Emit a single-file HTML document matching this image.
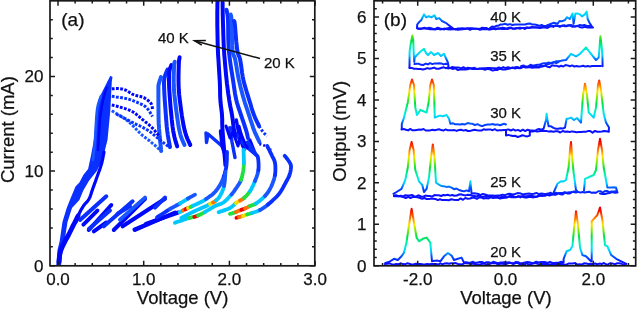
<!DOCTYPE html>
<html><head><meta charset="utf-8"><style>
html,body{margin:0;padding:0;background:#fff;}
svg{display:block;filter:blur(0.3px);}
text{font-family:"Liberation Sans", sans-serif;fill:#111;stroke:#111;stroke-width:0.25px;}
</style></head><body>
<svg width="639" height="309" viewBox="0 0 639 309">
<polygon points="56.2,266.0 57.5,250.0 59.7,241.0 62.5,221.8 66.7,207.9 70.7,198.0 75.5,186.5 79.4,182.6 83.3,174.9 88.1,169.0 91.0,155.5 93.9,140.0 95.5,120.0 98.7,99.0 103.0,90.3 110.3,75.8 112.5,77.0 111.8,81.6 110.3,110.7 107.5,140.0 102.6,159.4 96.8,171.0 89.0,180.7 83.3,190.4 79.4,200.0 72.0,208.0 67.5,222.0 64.5,241.0 62.0,255.0 61.0,266.0" fill="#0a30ff"/>
<polyline points="80.0,220.0 106.3,196.3" fill="none" stroke="#0a30ff" stroke-width="4.0" stroke-linejoin="round" stroke-linecap="round"/>
<polyline points="88.8,230.0 111.3,205.0" fill="none" stroke="#0008fa" stroke-width="4.0" stroke-linejoin="round" stroke-linecap="round"/>
<polyline points="93.8,231.3 106.3,222.5" fill="none" stroke="#0008fa" stroke-width="4.0" stroke-linejoin="round" stroke-linecap="round"/>
<polyline points="103.8,226.3 132.6,201.3" fill="none" stroke="#0a30ff" stroke-width="4.0" stroke-linejoin="round" stroke-linecap="round"/>
<polyline points="113.8,230.0 145.0,198.8" fill="none" stroke="#0008fa" stroke-width="4.0" stroke-linejoin="round" stroke-linecap="round"/>
<polyline points="117.6,213.8 130.0,206.3" fill="none" stroke="#0a30ff" stroke-width="4.0" stroke-linejoin="round" stroke-linecap="round"/>
<polyline points="122.6,226.3 165.0,198.8" fill="none" stroke="#0008fa" stroke-width="4.0" stroke-linejoin="round" stroke-linecap="round"/>
<polyline points="135.0,230.0 175.0,212.5" fill="none" stroke="#0008fa" stroke-width="4.0" stroke-linejoin="round" stroke-linecap="round"/>
<polyline points="119.9,219.8 145.0,197.6" fill="none" stroke="#1a56ff" stroke-width="3.9" stroke-linejoin="round" stroke-linecap="round"/>
<polyline points="134.4,229.5 163.6,217.4" fill="none" stroke="#0008fa" stroke-width="4.0" stroke-linejoin="round" stroke-linecap="round"/>
<polyline points="145.8,223.9 178.2,212.5" fill="none" stroke="#0008fa" stroke-width="4.0" stroke-linejoin="round" stroke-linecap="round"/>
<polyline points="155.0,207.6 165.0,197.6" fill="none" stroke="#0a30ff" stroke-width="3.9" stroke-linejoin="round" stroke-linecap="round"/>
<polyline points="83.4,224.6 97.4,210.6" fill="none" stroke="#0008fa" stroke-width="3.9" stroke-linejoin="round" stroke-linecap="round"/>
<polyline points="89.0,228.7 110.0,210.6" fill="none" stroke="#0a30ff" stroke-width="3.9" stroke-linejoin="round" stroke-linecap="round"/>
<polyline points="206.0,133.0 206.5,142.5 208.0,134.0 222.0,146.0" fill="none" stroke="#0a30ff" stroke-width="3.4" stroke-linejoin="round" stroke-linecap="round"/>
<polyline points="220.5,131.0 222.0,146.0 224.0,152.0" fill="none" stroke="#0008fa" stroke-width="3.4" stroke-linejoin="round" stroke-linecap="round"/>
<polyline points="229.8,127.8 232.0,142.0 235.0,157.6" fill="none" stroke="#0a30ff" stroke-width="3.4" stroke-linejoin="round" stroke-linecap="round"/>
<polyline points="236.3,120.0 239.0,135.0 242.7,146.0" fill="none" stroke="#0008fa" stroke-width="3.4" stroke-linejoin="round" stroke-linecap="round"/>
<polyline points="238.9,126.5 242.0,138.0 244.0,150.0" fill="none" stroke="#0008fa" stroke-width="3.4" stroke-linejoin="round" stroke-linecap="round"/>
<polyline points="232.0,128.0 240.0,140.0 250.0,150.0 256.0,155.0" fill="none" stroke="#0a30ff" stroke-width="3.2" stroke-linejoin="round" stroke-linecap="round"/>
<polyline points="226.0,126.0 230.0,138.0 233.0,132.0 238.0,146.0 241.0,134.0 247.0,148.0 250.0,140.0 254.0,150.0" fill="none" stroke="#0008fa" stroke-width="3.0" stroke-linejoin="round" stroke-linecap="round"/>
<polyline points="59.0,262.0 59.1,260.8 59.3,259.1 59.4,257.1 59.7,254.9 60.2,252.5 61.0,250.0 62.1,247.3 63.5,244.4 65.1,241.2 66.8,238.1 68.5,235.0 70.0,232.0 71.5,229.0 73.0,225.9 74.6,222.9 76.0,220.1 77.1,217.7 78.0,216.0" fill="none" stroke="#0008fa" stroke-width="4.8" stroke-linejoin="round" stroke-linecap="round"/>
<polyline points="76.0,222.0 76.3,221.1 76.7,219.9 77.2,218.5 77.8,217.0 78.4,215.4 79.0,214.0 79.6,212.7 80.3,211.3 81.0,209.9 81.8,208.6 82.6,207.3 83.4,206.0 84.3,204.8 85.2,203.7 86.2,202.7 87.2,201.6 88.1,200.4 89.0,199.0 89.8,197.4 90.5,195.6 91.1,193.8 91.7,191.8 92.4,189.9 93.0,188.0 93.7,186.2 94.3,184.4 95.0,182.7 95.6,180.9 96.3,179.0 97.0,177.0 97.8,174.8 98.6,172.5 99.5,170.2 100.3,167.8 101.0,165.5 101.7,163.3 102.2,161.1 102.7,158.9 103.1,156.8 103.5,154.8 103.8,153.2 104.0,152.0" fill="none" stroke="#0008fa" stroke-width="3.2" stroke-linejoin="round" stroke-linecap="round"/>
<polyline points="93.0,160.0 93.2,157.9 93.5,155.2 93.9,151.9 94.3,148.1 94.6,144.1 95.0,140.0 95.3,135.4 95.6,130.1 95.9,124.6 96.2,119.2 96.6,114.2 97.0,110.0 97.6,106.6 98.3,103.6 99.1,101.1 99.9,99.0 100.5,97.3 101.0,96.0" fill="none" stroke="#1a56ff" stroke-width="2.6" stroke-linejoin="round" stroke-linecap="round"/>
<polyline points="98.0,150.0 98.2,146.6 98.5,141.9 98.8,136.2 99.2,130.4 99.6,124.8 100.0,120.0 100.4,116.0 100.9,112.3 101.4,108.9 101.9,105.7 102.4,102.8 103.0,100.0 103.7,97.4 104.4,95.0 105.2,92.8 105.9,90.8 106.6,89.2 107.0,88.0" fill="none" stroke="#0008fa" stroke-width="2.6" stroke-linejoin="round" stroke-linecap="round"/>
<polyline points="101.0,150.0 101.3,146.6 101.8,141.9 102.4,136.2 103.0,130.4 103.5,124.8 104.0,120.0 104.4,116.0 104.7,112.4 104.9,109.1 105.2,106.0 105.6,103.0 106.0,100.0 106.6,96.9 107.3,93.8 108.1,90.8 108.9,88.0 109.5,85.7 110.0,84.0" fill="none" stroke="#0a30ff" stroke-width="2.4" stroke-linejoin="round" stroke-linecap="round"/>
<polyline points="161.0,77.0 160.7,77.8 160.4,78.9 159.9,80.1 159.5,81.5 159.1,82.8 158.8,84.0 158.6,84.8 158.5,85.2 158.5,85.6 158.4,86.3 158.4,87.6 158.4,90.0 158.4,93.8 158.4,98.8 158.4,104.4 158.5,110.2 158.5,115.6 158.6,120.0 158.7,123.4 158.9,126.1 159.0,128.4 159.2,130.5 159.4,132.6 159.6,135.0 159.9,137.8 160.1,140.9 160.5,143.9 160.8,146.8 161.0,149.2 161.2,151.0" fill="none" stroke="#1a56ff" stroke-width="4.0" stroke-linejoin="round" stroke-linecap="round"/>
<polyline points="167.5,69.6 167.1,70.5 166.6,71.6 166.0,73.0 165.4,74.6 164.9,76.3 164.5,78.0 164.3,79.6 164.1,81.1 164.0,82.7 164.0,84.5 164.1,86.9 164.2,90.0 164.4,94.1 164.7,99.2 165.1,104.8 165.5,110.4 165.9,115.7 166.2,120.0 166.5,123.4 166.7,126.2 167.0,128.6 167.2,130.8 167.5,132.8 167.8,135.0 168.2,137.3 168.6,139.7 169.0,141.9 169.4,144.0 169.8,145.7 170.0,147.0" fill="none" stroke="#0a30ff" stroke-width="4.0" stroke-linejoin="round" stroke-linecap="round"/>
<polyline points="171.4,65.0 171.1,65.6 170.8,66.4 170.4,67.4 169.9,68.6 169.6,70.1 169.3,72.0 169.1,74.2 169.1,76.7 169.0,79.6 169.0,82.7 169.1,86.2 169.3,90.0 169.6,94.5 170.0,99.7 170.4,105.2 170.9,110.7 171.4,115.7 171.8,120.0 172.2,123.4 172.5,126.2 172.9,128.7 173.2,130.8 173.6,132.9 174.0,135.0 174.5,137.2 175.1,139.5 175.7,141.6 176.3,143.6 176.8,145.2 177.2,146.4" fill="none" stroke="#0008fa" stroke-width="4.0" stroke-linejoin="round" stroke-linecap="round"/>
<polyline points="174.7,61.8 174.6,62.3 174.5,62.8 174.3,63.5 174.2,64.5 174.1,66.0 174.0,68.0 173.9,70.7 173.8,73.9 173.7,77.5 173.7,81.5 173.8,85.7 174.0,90.0 174.4,94.7 175.0,100.0 175.6,105.4 176.3,110.8 177.0,115.8 177.6,120.0 178.1,123.4 178.6,126.3 179.0,128.8 179.5,130.9 180.0,133.0 180.5,135.0 181.1,137.1 181.9,139.1 182.7,140.9 183.4,142.6 184.1,144.0 184.5,145.0" fill="none" stroke="#1a56ff" stroke-width="4.0" stroke-linejoin="round" stroke-linecap="round"/>
<polyline points="179.6,57.3 179.5,57.9 179.4,58.7 179.2,59.6 179.0,60.9 178.9,62.6 178.8,65.0 178.7,68.1 178.6,71.9 178.5,76.1 178.5,80.7 178.6,85.3 178.8,90.0 179.2,94.9 179.8,100.2 180.5,105.6 181.2,110.9 181.9,115.8 182.6,120.0 183.2,123.4 183.7,126.3 184.3,128.8 184.8,130.9 185.4,133.0 186.0,135.0 186.7,137.1 187.5,139.1 188.4,140.9 189.2,142.6 189.8,144.0 190.3,145.0" fill="none" stroke="#0008fa" stroke-width="4.0" stroke-linejoin="round" stroke-linecap="round"/>
<polyline points="217.5,0.0 217.5,2.1 217.4,4.8 217.4,8.1 217.3,11.9 217.3,15.9 217.3,20.0 217.3,24.4 217.4,29.3 217.5,34.4 217.6,39.6 217.7,44.9 217.9,50.0 218.1,55.1 218.5,60.4 218.8,65.6 219.1,70.7 219.4,75.6 219.7,80.0 219.9,84.0 220.0,87.6 220.1,90.9 220.1,94.1 220.2,97.1 220.4,100.0 220.6,102.8 220.9,105.4 221.2,107.8 221.5,110.2 221.8,112.6 222.0,115.0 222.1,117.3 222.2,119.3 222.2,121.2 222.2,123.5 222.3,126.3 222.5,130.0 222.9,135.1 223.4,141.5 224.0,148.4 224.6,155.2 225.1,161.0 225.4,165.0" fill="none" stroke="#0008fa" stroke-width="4.0" stroke-linejoin="round" stroke-linecap="round"/>
<polyline points="222.6,2.6 222.6,4.3 222.6,6.6 222.7,9.4 222.7,12.6 222.8,16.2 222.9,20.0 223.0,24.3 223.2,29.1 223.3,34.2 223.5,39.5 223.7,44.9 224.0,50.0 224.3,55.1 224.8,60.4 225.2,65.6 225.7,70.7 226.1,75.6 226.6,80.0 227.0,84.0 227.5,87.6 227.9,90.9 228.3,94.1 228.8,97.1 229.2,100.0 229.7,102.8 230.1,105.4 230.6,107.8 231.1,110.2 231.6,112.6 232.0,115.0 232.4,117.6 232.8,120.3 233.1,123.1 233.4,125.7 233.7,128.0 234.0,130.0 234.2,131.6 234.4,132.9 234.6,133.9 234.8,134.8 234.9,135.5 235.0,136.0" fill="none" stroke="#0008fa" stroke-width="4.0" stroke-linejoin="round" stroke-linecap="round"/>
<polyline points="226.5,9.7 226.7,10.6 226.9,11.6 227.2,13.0 227.5,14.7 227.8,17.0 228.0,20.0 228.1,23.9 228.2,28.5 228.2,33.8 228.3,39.3 228.5,44.8 228.8,50.0 229.3,55.1 230.0,60.4 230.7,65.6 231.5,70.7 232.3,75.6 233.0,80.0 233.6,84.0 234.1,87.6 234.6,90.9 235.1,94.1 235.7,97.1 236.3,100.0 237.0,102.8 237.8,105.4 238.5,107.8 239.4,110.2 240.2,112.6 241.0,115.0 241.9,117.6 242.8,120.3 243.7,122.9 244.5,125.5 245.3,127.9 246.0,130.0 246.5,131.8 247.0,133.5 247.3,134.9 247.6,136.2 247.8,137.2 248.0,138.0" fill="none" stroke="#0a30ff" stroke-width="4.0" stroke-linejoin="round" stroke-linecap="round"/>
<polyline points="230.7,14.6 230.8,14.9 230.9,15.1 231.0,15.4 231.2,16.2 231.3,17.6 231.5,20.0 231.6,23.8 231.8,28.9 231.9,34.7 232.1,40.6 232.3,45.9 232.6,50.0 232.9,52.7 233.3,54.4 233.8,55.6 234.3,56.7 234.8,58.0 235.3,60.0 235.8,62.8 236.4,65.9 236.9,69.4 237.5,73.0 238.2,76.6 238.9,80.0 239.7,83.4 240.5,86.9 241.4,90.3 242.3,93.7 243.2,97.0 244.1,100.0 244.9,102.8 245.8,105.4 246.6,107.8 247.4,110.2 248.2,112.6 249.0,115.0 249.8,117.5 250.6,120.1 251.5,122.7 252.3,125.2 253.1,127.7 254.0,130.0 254.9,132.3 256.0,134.7 257.0,136.9 258.0,139.0 258.8,140.7 259.4,142.0" fill="none" stroke="#1a56ff" stroke-width="4.0" stroke-linejoin="round" stroke-linecap="round"/>
<polyline points="234.0,21.0 234.1,21.2 234.2,21.3 234.3,21.4 234.5,22.0 234.7,23.1 234.9,25.0 235.2,28.1 235.5,32.3 235.9,37.1 236.3,42.0 236.8,46.5 237.2,50.0 237.7,52.4 238.1,54.1 238.6,55.3 239.2,56.5 239.7,57.9 240.2,60.0 240.7,62.8 241.2,65.9 241.6,69.4 242.1,73.0 242.7,76.6 243.4,80.0 244.2,83.4 245.2,86.9 246.2,90.3 247.2,93.7 248.3,97.0 249.2,100.0 250.1,102.8 250.9,105.5 251.6,108.1 252.4,110.5 253.2,112.8 254.0,115.0 254.9,117.2 255.8,119.4 256.8,121.4 257.7,123.3 258.5,124.8 259.0,126.0" fill="none" stroke="#0a30ff" stroke-width="4.0" stroke-linejoin="round" stroke-linecap="round"/>
<polyline points="111.8,88.9 112.5,88.8 113.4,88.8 114.5,88.7 115.7,88.6 116.9,88.6 118.0,88.6 119.1,88.7 120.2,88.8 121.3,88.9 122.4,89.1 123.6,89.4 124.9,89.8 126.2,90.4 127.6,91.2 129.0,92.1 130.5,93.1 132.0,94.0 133.6,94.7 135.2,95.3 137.0,95.7 138.8,96.1 140.6,96.5 142.3,97.0 143.8,97.6 145.2,98.4 146.6,99.3 147.9,100.3 149.1,101.4 150.2,102.4 151.0,103.4 151.6,104.4 152.0,105.5 152.2,106.7 152.3,107.7 152.4,108.6 152.5,109.2" fill="none" stroke="#0008fa" stroke-width="3.0" stroke-dasharray="2.8 1.4" stroke-linejoin="round"/>
<polyline points="111.8,96.2 113.6,96.5 116.1,96.9 119.1,97.3 122.2,97.8 125.2,98.4 127.8,99.0 130.0,99.6 132.2,100.3 134.1,101.1 136.0,101.9 137.8,102.6 139.4,103.4 140.9,104.1 142.2,104.7 143.4,105.3 144.5,106.0 145.6,106.8 146.7,107.8 147.8,109.1 149.0,110.7 150.1,112.4 151.1,114.1 151.9,115.5 152.5,116.5" fill="none" stroke="#0a30ff" stroke-width="3.0" stroke-dasharray="2.8 1.4" stroke-linejoin="round"/>
<polyline points="111.8,104.9 113.9,105.5 117.0,106.3 120.5,107.3 124.2,108.3 127.8,109.5 130.7,110.7 133.1,112.0 135.2,113.4 137.0,114.9 138.8,116.4 140.5,117.9 142.3,119.4 144.1,120.8 145.9,122.3 147.7,123.7 149.4,125.2 151.0,126.6 152.5,128.1 154.0,129.7 155.4,131.4 156.8,133.0 158.0,134.6 159.0,135.9 159.8,136.9" fill="none" stroke="#0008fa" stroke-width="3.0" stroke-dasharray="2.8 1.4" stroke-linejoin="round"/>
<polyline points="111.8,110.7 113.6,111.8 116.0,113.3 119.0,115.0 122.1,117.0 125.1,119.0 127.8,121.0 130.2,123.1 132.6,125.4 134.9,127.8 137.2,130.2 139.3,132.4 141.3,134.3 143.1,135.9 144.8,137.2 146.3,138.4 147.8,139.5 149.4,140.7 151.0,142.0 152.8,143.6 154.9,145.3 156.9,147.1 158.8,148.8 160.4,150.3 161.6,151.3" fill="none" stroke="#1a56ff" stroke-width="3.0" stroke-dasharray="2.8 1.4" stroke-linejoin="round"/>
<polyline points="116.2,114.0 118.1,115.0 120.8,116.4 124.0,118.0 127.4,119.8 130.7,121.5 133.6,123.0 136.2,124.3 138.6,125.4 141.0,126.5 143.3,127.7 145.6,128.9 147.8,130.2 150.0,131.7 152.1,133.3 154.1,135.0 156.1,136.8 158.1,138.4 160.0,140.0 162.0,141.5 164.0,143.1 166.0,144.6 167.8,146.0 169.4,147.2 170.5,148.0" fill="none" stroke="#0a30ff" stroke-width="3.0" stroke-dasharray="2.8 1.4" stroke-linejoin="round"/>
<polyline points="259.0,126.0 259.4,126.7 260.0,127.6 260.7,128.8 261.5,129.9 262.3,131.0 263.0,132.0 263.7,132.8 264.5,133.6 265.4,134.4 266.1,135.0 266.7,135.6 267.2,136.0" fill="none" stroke="#0a30ff" stroke-width="3.0" stroke-dasharray="2.5 1.8" stroke-linejoin="round"/>
<polyline points="259.4,144.0 260.0,144.2 260.9,144.4 261.9,144.8 263.1,145.1 264.2,145.5 265.2,146.0 266.2,146.6 267.3,147.3 268.5,148.1 269.5,148.9 270.4,149.5 271.0,150.0" fill="none" stroke="#0008fa" stroke-width="2.6" stroke-dasharray="2 2" stroke-linejoin="round"/>
<polyline points="236.4,217.8 236.7,217.7 237.2,217.5 237.7,217.4 238.3,217.2 239.0,217.0" fill="none" stroke="#f00000" stroke-width="3.8" stroke-linejoin="round" stroke-linecap="round"/>
<polyline points="239.0,217.0 239.7,216.8 240.5,216.6 241.3,216.4 242.2,216.2 243.0,216.0" fill="none" stroke="#ff7000" stroke-width="3.8" stroke-linejoin="round" stroke-linecap="round"/>
<polyline points="243.0,216.0 243.8,215.7 244.6,215.4 245.3,215.1 246.1,214.8 247.0,214.5" fill="none" stroke="#f0e000" stroke-width="3.8" stroke-linejoin="round" stroke-linecap="round"/>
<polyline points="247.0,214.5 247.9,214.2 248.8,214.0 249.7,213.7 250.8,213.4 252.0,213.0" fill="none" stroke="#20e040" stroke-width="3.8" stroke-linejoin="round" stroke-linecap="round"/>
<polyline points="252.0,213.0 253.4,212.5 255.0,212.0 256.7,211.5 258.4,210.8 260.0,210.0" fill="none" stroke="#00c8ff" stroke-width="3.8" stroke-linejoin="round" stroke-linecap="round"/>
<polyline points="260.0,210.0 261.6,209.1 263.1,208.2 264.6,207.2 266.2,206.0 268.0,204.5" fill="none" stroke="#1a56ff" stroke-width="3.8" stroke-linejoin="round" stroke-linecap="round"/>
<polyline points="268.0,204.5 270.1,202.7 272.4,200.7 274.7,198.5 277.0,196.3 279.0,194.0 280.7,191.6 282.3,189.1 283.6,186.5 284.9,184.1 286.0,182.0 287.0,180.3 287.7,178.9 288.4,177.7 289.0,176.4 289.5,175.0 290.0,173.3 290.5,171.4 290.8,169.5 291.0,167.6 291.0,166.0 290.7,164.6 290.1,163.3 289.4,162.1 288.7,161.0 288.0,160.0 287.3,159.0 286.5,158.0 285.8,157.1 285.2,156.3 284.7,155.8" fill="none" stroke="#0a30ff" stroke-width="3.8" stroke-linejoin="round" stroke-linecap="round"/>
<polyline points="230.0,213.9 230.8,213.6 232.0,213.3 233.4,212.9 234.7,212.4 236.0,212.0" fill="none" stroke="#20e040" stroke-width="3.8" stroke-linejoin="round" stroke-linecap="round"/>
<polyline points="236.0,212.0 237.1,211.6 238.2,211.1 239.3,210.6 240.4,210.2 241.3,209.8" fill="none" stroke="#ff7000" stroke-width="3.8" stroke-linejoin="round" stroke-linecap="round"/>
<polyline points="241.3,209.8 242.1,209.5 242.8,209.3 243.5,209.1 244.2,208.8 245.0,208.5" fill="none" stroke="#f00000" stroke-width="3.8" stroke-linejoin="round" stroke-linecap="round"/>
<polyline points="245.0,208.5 245.9,208.1 246.9,207.6 247.9,207.1 248.9,206.5 250.0,206.0" fill="none" stroke="#ff7000" stroke-width="3.8" stroke-linejoin="round" stroke-linecap="round"/>
<polyline points="250.0,206.0 251.1,205.6 252.2,205.2 253.3,204.9 254.6,204.3 256.0,203.5" fill="none" stroke="#20e040" stroke-width="3.8" stroke-linejoin="round" stroke-linecap="round"/>
<polyline points="256.0,203.5 257.7,202.3 259.5,200.9 261.5,199.3 263.3,197.7 265.0,196.0" fill="none" stroke="#00c8ff" stroke-width="3.8" stroke-linejoin="round" stroke-linecap="round"/>
<polyline points="265.0,196.0 266.4,194.3 267.7,192.7 268.9,190.9 270.0,189.0 271.0,187.0 272.0,184.8 272.9,182.4 273.8,179.9 274.5,177.4 275.0,175.0" fill="none" stroke="#1a56ff" stroke-width="3.8" stroke-linejoin="round" stroke-linecap="round"/>
<polyline points="275.0,175.0 275.3,172.5 275.4,170.0 275.4,167.5 275.3,165.1 275.0,163.0 274.6,161.3 274.1,159.9 273.5,158.6 272.8,157.3 272.0,155.8 271.1,153.8 270.0,151.6 268.9,149.3 267.9,147.4 267.2,146.0" fill="none" stroke="#0a30ff" stroke-width="3.8" stroke-linejoin="round" stroke-linecap="round"/>
<polyline points="218.6,212.2 220.2,211.6 222.6,210.9 225.3,209.9 227.9,209.0 230.0,208.0 231.6,207.0 232.9,205.9 234.0,204.9 235.0,203.9 236.0,203.0" fill="none" stroke="#00c8ff" stroke-width="3.8" stroke-linejoin="round" stroke-linecap="round"/>
<polyline points="236.0,203.0 236.9,202.3 237.7,201.8 238.5,201.4 239.2,201.0 240.0,200.5" fill="none" stroke="#f0e000" stroke-width="3.8" stroke-linejoin="round" stroke-linecap="round"/>
<polyline points="240.0,200.5 240.8,200.1 241.5,199.7 242.3,199.3 243.1,198.8 244.0,198.0" fill="none" stroke="#ff7000" stroke-width="3.8" stroke-linejoin="round" stroke-linecap="round"/>
<polyline points="244.0,198.0 245.1,197.0 246.3,195.8 247.6,194.4 248.8,192.8 250.0,191.2" fill="none" stroke="#20e040" stroke-width="3.8" stroke-linejoin="round" stroke-linecap="round"/>
<polyline points="250.0,191.2 251.1,189.4 252.1,187.4 253.2,185.3 254.1,183.1 255.0,181.0" fill="none" stroke="#00c8ff" stroke-width="3.8" stroke-linejoin="round" stroke-linecap="round"/>
<polyline points="255.0,181.0 255.8,178.9 256.7,176.7 257.4,174.5 258.0,172.3 258.4,170.0" fill="none" stroke="#1a56ff" stroke-width="3.8" stroke-linejoin="round" stroke-linecap="round"/>
<polyline points="258.4,170.0 258.6,167.5 258.6,164.9 258.5,162.3 258.3,159.9 258.0,158.0 257.7,156.8 257.4,156.1 257.0,155.6 256.4,155.0 255.5,153.8 254.2,151.8 252.4,149.1 250.6,146.4 248.9,143.9 247.8,142.2" fill="none" stroke="#0a30ff" stroke-width="3.8" stroke-linejoin="round" stroke-linecap="round"/>
<polyline points="174.9,222.8 176.0,222.4 177.6,221.8 179.5,221.2 181.4,220.6 183.0,220.0 184.4,219.5 185.8,219.1 187.0,218.6 188.2,218.2 189.4,217.9" fill="none" stroke="#00c8ff" stroke-width="3.8" stroke-linejoin="round" stroke-linecap="round"/>
<polyline points="189.4,217.9 190.5,217.6 191.5,217.4 192.5,217.2 193.4,217.0 194.3,216.8" fill="none" stroke="#20e040" stroke-width="3.8" stroke-linejoin="round" stroke-linecap="round"/>
<polyline points="194.3,216.8 195.1,216.6 195.7,216.4 196.3,216.2 197.1,215.9 198.0,215.5" fill="none" stroke="#f00000" stroke-width="3.8" stroke-linejoin="round" stroke-linecap="round"/>
<polyline points="198.0,215.5 199.1,215.0 200.4,214.4 201.8,213.7 203.4,212.9 205.0,212.0" fill="none" stroke="#20e040" stroke-width="3.8" stroke-linejoin="round" stroke-linecap="round"/>
<polyline points="205.0,212.0 206.8,210.9 208.9,209.7 211.0,208.3 213.1,207.1 215.0,206.0 216.8,205.2 218.5,204.6 220.1,204.1 221.8,203.5 223.4,202.5 225.1,201.2 226.8,199.6 228.5,197.8 230.1,196.0 231.5,194.4" fill="none" stroke="#00c8ff" stroke-width="3.8" stroke-linejoin="round" stroke-linecap="round"/>
<polyline points="231.5,194.4 232.8,192.9 234.0,191.4 235.0,189.9 236.0,188.4 237.0,187.0 237.9,185.6 238.8,184.2 239.6,182.9 240.4,181.5 241.0,180.0" fill="none" stroke="#1a56ff" stroke-width="3.8" stroke-linejoin="round" stroke-linecap="round"/>
<polyline points="241.0,180.0 241.5,178.5 242.0,176.9 242.4,175.3 242.7,173.7 243.0,172.0 243.3,170.3 243.5,168.7 243.7,166.9 243.8,165.1 243.9,163.0" fill="none" stroke="#20e040" stroke-width="3.8" stroke-linejoin="round" stroke-linecap="round"/>
<polyline points="243.9,163.0 243.9,160.4 243.8,157.5 243.7,154.5 243.6,151.8 243.5,150.0" fill="none" stroke="#00c8ff" stroke-width="3.8" stroke-linejoin="round" stroke-linecap="round"/>
<polyline points="179.7,212.2 180.2,212.0 180.8,211.6 181.6,211.2 182.3,210.8 183.0,210.5" fill="none" stroke="#00c8ff" stroke-width="3.8" stroke-linejoin="round" stroke-linecap="round"/>
<polyline points="183.0,210.5 183.5,210.2 184.0,209.9 184.5,209.7 184.9,209.4 185.4,209.2" fill="none" stroke="#ff7000" stroke-width="3.8" stroke-linejoin="round" stroke-linecap="round"/>
<polyline points="185.4,209.2 185.9,209.0 186.4,208.7 187.0,208.5 187.5,208.2 188.0,208.0" fill="none" stroke="#f00000" stroke-width="3.8" stroke-linejoin="round" stroke-linecap="round"/>
<polyline points="188.0,208.0 188.5,207.8 189.0,207.6 189.5,207.4 190.0,207.2 190.5,207.0" fill="none" stroke="#f0e000" stroke-width="3.8" stroke-linejoin="round" stroke-linecap="round"/>
<polyline points="190.5,207.0 190.9,206.8 191.2,206.7 191.5,206.5 192.1,206.2 193.0,205.8" fill="none" stroke="#20e040" stroke-width="3.8" stroke-linejoin="round" stroke-linecap="round"/>
<polyline points="193.0,205.8 194.5,205.1 196.4,204.2 198.4,203.2 200.4,202.3 202.0,201.5 203.1,200.9 203.8,200.5 204.4,200.2 205.0,199.7 206.0,199.0" fill="none" stroke="#00c8ff" stroke-width="3.8" stroke-linejoin="round" stroke-linecap="round"/>
<polyline points="206.0,199.0 207.4,198.1 209.0,196.9 210.8,195.7 212.5,194.4 214.0,193.0 215.4,191.5 216.6,190.0 217.8,188.4 219.0,186.7 220.0,185.0 221.0,183.3 221.8,181.6 222.6,179.8 223.3,177.9 224.0,176.0" fill="none" stroke="#1a56ff" stroke-width="3.8" stroke-linejoin="round" stroke-linecap="round"/>
<polyline points="224.0,176.0 224.6,174.0 225.2,171.8 225.7,169.6 226.2,167.4 226.5,165.0 226.7,162.3 226.9,159.3 226.9,156.4 227.0,153.8 227.0,152.0" fill="none" stroke="#0a30ff" stroke-width="3.8" stroke-linejoin="round" stroke-linecap="round"/>
<polyline points="181.3,217.9 183.2,216.9 186.0,215.5 189.1,213.9 192.3,212.3 195.0,211.0 197.3,209.9 199.5,208.9 201.5,208.0 203.4,207.2 205.0,206.5 206.4,205.9 207.5,205.3 208.4,204.8 209.2,204.4 210.0,204.0" fill="none" stroke="#00c8ff" stroke-width="3.8" stroke-linejoin="round" stroke-linecap="round"/>
<polyline points="210.0,204.0 210.7,203.6 211.3,203.4 211.9,203.1 212.4,202.8 213.0,202.5" fill="none" stroke="#f0e000" stroke-width="3.8" stroke-linejoin="round" stroke-linecap="round"/>
<polyline points="213.0,202.5 213.6,202.2 214.2,201.9 214.7,201.5 215.3,201.1 216.0,200.5" fill="none" stroke="#ff7000" stroke-width="3.8" stroke-linejoin="round" stroke-linecap="round"/>
<polyline points="216.0,200.5 216.7,199.8 217.5,199.1 218.4,198.3 219.2,197.3 220.0,196.0 220.8,194.4 221.7,192.6 222.6,190.6 223.4,188.3 224.0,186.0" fill="none" stroke="#00c8ff" stroke-width="3.8" stroke-linejoin="round" stroke-linecap="round"/>
<polyline points="224.0,186.0 224.5,183.2 224.9,180.0 225.1,176.8 225.3,174.0 225.5,172.0" fill="none" stroke="#1a56ff" stroke-width="3.8" stroke-linejoin="round" stroke-linecap="round"/>
<polyline points="157.0,217.4 158.8,216.2 161.4,214.5 164.4,212.6 167.4,210.6 170.0,209.0" fill="none" stroke="#0a30ff" stroke-width="3.8" stroke-linejoin="round" stroke-linecap="round"/>
<polyline points="170.0,209.0 172.2,207.7 174.3,206.6 176.3,205.5 178.2,204.5 180.0,203.5" fill="none" stroke="#1a56ff" stroke-width="3.8" stroke-linejoin="round" stroke-linecap="round"/>
<polyline points="180.0,203.5 181.7,202.4 183.4,201.4 185.0,200.4 186.5,199.4 188.0,198.5" fill="none" stroke="#00c8ff" stroke-width="3.8" stroke-linejoin="round" stroke-linecap="round"/>
<polyline points="188.0,198.5 189.6,197.6 191.2,196.7 192.8,195.9 194.1,195.2 195.0,194.7" fill="none" stroke="#1a56ff" stroke-width="3.8" stroke-linejoin="round" stroke-linecap="round"/>
<defs><linearGradient id="gt40" gradientUnits="userSpaceOnUse" x1="0" y1="28.2" x2="0" y2="-25.8"><stop offset="0" stop-color="#0a10ff"/><stop offset="0.05" stop-color="#0a20ff"/><stop offset="0.14" stop-color="#0058ff"/><stop offset="0.22" stop-color="#00c4ff"/><stop offset="0.3" stop-color="#00e8f0"/><stop offset="0.4" stop-color="#00f0a0"/><stop offset="0.5" stop-color="#00e040"/><stop offset="0.63" stop-color="#90ec00"/><stop offset="0.72" stop-color="#ffe400"/><stop offset="0.86" stop-color="#ff6a00"/><stop offset="1.0" stop-color="#f00000"/></linearGradient><linearGradient id="gt35" gradientUnits="userSpaceOnUse" x1="0" y1="67.5" x2="0" y2="13.5"><stop offset="0" stop-color="#0a10ff"/><stop offset="0.05" stop-color="#0a20ff"/><stop offset="0.14" stop-color="#0058ff"/><stop offset="0.22" stop-color="#00c4ff"/><stop offset="0.3" stop-color="#00e8f0"/><stop offset="0.4" stop-color="#00f0a0"/><stop offset="0.5" stop-color="#00e040"/><stop offset="0.63" stop-color="#90ec00"/><stop offset="0.72" stop-color="#ffe400"/><stop offset="0.86" stop-color="#ff6a00"/><stop offset="1.0" stop-color="#f00000"/></linearGradient><linearGradient id="gt30" gradientUnits="userSpaceOnUse" x1="0" y1="130.5" x2="0" y2="76.5"><stop offset="0" stop-color="#0a10ff"/><stop offset="0.05" stop-color="#0a20ff"/><stop offset="0.14" stop-color="#0058ff"/><stop offset="0.22" stop-color="#00c4ff"/><stop offset="0.3" stop-color="#00e8f0"/><stop offset="0.4" stop-color="#00f0a0"/><stop offset="0.5" stop-color="#00e040"/><stop offset="0.63" stop-color="#90ec00"/><stop offset="0.72" stop-color="#ffe400"/><stop offset="0.86" stop-color="#ff6a00"/><stop offset="1.0" stop-color="#f00000"/></linearGradient><linearGradient id="gt25" gradientUnits="userSpaceOnUse" x1="0" y1="195.5" x2="0" y2="141.5"><stop offset="0" stop-color="#0a10ff"/><stop offset="0.05" stop-color="#0a20ff"/><stop offset="0.14" stop-color="#0058ff"/><stop offset="0.22" stop-color="#00c4ff"/><stop offset="0.3" stop-color="#00e8f0"/><stop offset="0.4" stop-color="#00f0a0"/><stop offset="0.5" stop-color="#00e040"/><stop offset="0.63" stop-color="#90ec00"/><stop offset="0.72" stop-color="#ffe400"/><stop offset="0.86" stop-color="#ff6a00"/><stop offset="1.0" stop-color="#f00000"/></linearGradient><linearGradient id="gt20" gradientUnits="userSpaceOnUse" x1="0" y1="263.5" x2="0" y2="209.5"><stop offset="0" stop-color="#0a10ff"/><stop offset="0.05" stop-color="#0a20ff"/><stop offset="0.14" stop-color="#0058ff"/><stop offset="0.22" stop-color="#00c4ff"/><stop offset="0.3" stop-color="#00e8f0"/><stop offset="0.4" stop-color="#00f0a0"/><stop offset="0.5" stop-color="#00e040"/><stop offset="0.63" stop-color="#90ec00"/><stop offset="0.72" stop-color="#ffe400"/><stop offset="0.86" stop-color="#ff6a00"/><stop offset="1.0" stop-color="#f00000"/></linearGradient></defs>
<polyline points="452.3,27.9 449.5,25.7 445.7,22.8 442.0,21.0 439.2,18.1 436.3,19.0 434.5,15.3 431.6,17.2 428.8,16.3 426.0,17.2 424.0,14.4 421.3,20.0 418.5,22.8 417.2,24.5 417.0,28.2 420.0,28.4 422.2,28.4 424.4,27.8 426.7,28.6 428.9,27.8 431.1,28.2 433.3,28.9 435.6,28.7 437.8,27.8 440.0,28.5 442.2,28.9 444.4,29.4 446.7,28.4 448.9,28.0 451.1,28.3 453.3,28.6 455.6,29.4 457.8,28.4 460.0,28.6 462.2,28.2 464.4,28.6 466.7,28.5 468.9,28.2 471.1,28.2 473.3,28.8 475.6,28.7 477.8,29.1 480.0,28.8 482.2,27.7 484.4,28.1 486.7,28.0 488.9,29.4 491.1,28.4 493.3,28.5 495.6,29.4 497.8,28.8 500.0,28.5 502.2,29.1 504.4,28.9 506.7,28.5 508.9,27.7 511.1,27.5 513.3,28.8 515.6,28.2 517.8,28.0 520.0,27.7 522.2,28.0 524.4,28.1 526.7,27.5 528.9,28.1 531.1,27.1 533.3,27.2 535.6,27.3 537.8,27.4 540.0,27.6 542.2,26.7 544.4,26.9 546.6,27.6 548.8,26.4 551.0,25.9 553.2,26.9 555.4,25.5 557.6,25.8 559.8,26.7 562.1,25.8 564.3,25.3 566.5,26.2 568.7,25.3 571.0,24.9 573.2,25.9 575.4,26.5 577.6,26.1 579.9,24.9 582.1,25.4 584.3,24.9 586.5,25.7 588.8,25.9 591.0,25.6" fill="none" stroke="url(#gt40)" stroke-width="2" stroke-linejoin="round" stroke-linecap="round"/>
<polyline points="418.0,28.8 420.4,29.0 422.8,28.6 425.2,28.3 427.6,28.8 430.0,29.2 432.5,29.2 435.0,29.5 437.5,28.7 440.0,29.4 442.5,29.0 445.0,28.6 447.5,29.2 450.0,29.5 452.5,29.2 455.0,29.0 457.5,29.7 460.0,29.6 462.5,29.2 465.0,28.9 467.5,28.4 470.0,29.8 472.5,28.5 475.0,28.8 477.5,28.8 480.0,29.8 482.5,29.0 485.0,29.2 487.5,29.2 490.0,29.4 492.5,28.9 495.0,28.4 497.5,28.5 500.0,28.2 502.5,27.6 505.0,28.3 507.5,29.1 510.0,28.0 512.5,28.5 515.0,28.8 517.5,28.0 520.0,28.7 522.5,27.9 525.0,29.0 527.5,27.4 530.0,27.8 532.5,27.2 535.0,27.4 537.5,27.5 540.0,27.9 542.5,27.6 545.0,27.2 547.5,27.9 550.0,26.3 552.5,26.1 555.0,25.7 557.5,25.7 560.0,26.2 562.5,25.6 565.0,26.3 567.5,25.5 570.0,25.6 572.5,26.8 575.0,26.4 577.5,25.8 580.0,27.2 582.5,27.5 585.0,26.7 587.5,27.6 590.0,27.2 593.0,27.5" fill="none" stroke="url(#gt40)" stroke-width="2" stroke-linejoin="round" stroke-linecap="round"/>
<polyline points="490.0,28.0 492.1,26.5 494.3,26.9 496.4,25.8 498.6,25.7 500.7,24.4 502.9,24.4 505.0,23.8 507.5,24.7 510.0,24.1 512.5,25.0 515.0,24.6 517.5,24.6 520.0,24.6 522.6,24.4 525.1,24.5 527.6,23.8 530.0,23.4 532.3,24.6 534.6,24.6 537.0,25.0 539.3,25.9 541.6,25.0 544.0,26.1 546.3,25.7 553.8,22.8 557.6,23.8 559.5,21.0 562.2,21.2 565.0,20.0 567.0,17.2 569.8,19.0 572.6,13.5 573.6,23.8 575.4,13.5 577.7,13.6 580.0,14.4 582.0,16.3 584.8,14.4 586.7,11.6 587.7,19.0 589.5,22.8 591.4,25.7 592.0,27.0" fill="none" stroke="url(#gt40)" stroke-width="2" stroke-linejoin="round" stroke-linecap="round"/>
<polyline points="409.5,67.8 409.6,52.0 410.5,45.0 411.5,40.0 412.3,35.5 413.2,40.0 413.8,55.0 414.3,62.0 414.6,57.5 417.0,55.0 420.0,52.0 424.0,48.8 426.0,53.0 428.0,55.0 431.0,52.0 434.0,55.0 438.0,53.0 441.0,56.0 444.0,53.8 447.9,62.5 448.5,66.5" fill="none" stroke="url(#gt35)" stroke-width="2" stroke-linejoin="round" stroke-linecap="round"/>
<polyline points="414.5,64.0 416.7,63.7 419.0,63.8 421.2,64.8 423.4,64.9 425.7,63.6 427.9,64.4 430.1,63.1 432.4,64.1 434.6,63.4 436.8,63.5 439.1,63.3 441.3,63.4 443.5,64.4 445.8,63.7 448.0,64.0" fill="none" stroke="url(#gt35)" stroke-width="2" stroke-linejoin="round" stroke-linecap="round"/>
<polyline points="409.5,68.0 411.7,67.9 413.9,68.7 416.1,68.7 418.4,68.9 420.6,69.1 422.8,69.4 425.0,69.0 427.3,68.1 429.6,68.7 431.9,68.2 434.2,67.6 436.5,68.8 438.8,68.8 441.1,68.0 443.4,67.2 445.7,68.2 448.0,67.5 450.2,68.2 452.4,66.9 454.6,67.4 456.8,67.5 459.0,67.6 461.2,68.4 463.4,67.2 465.6,68.6 467.8,67.8 470.0,68.2 472.2,68.2 474.4,67.8 476.7,69.0 478.9,68.7 481.1,68.6 483.3,68.3 485.6,68.2 487.8,67.9 490.0,68.0 492.2,68.2 494.4,68.2 496.7,68.4 498.9,67.4 501.1,68.4 503.3,67.1 505.6,68.2 507.8,67.2 510.0,67.8 512.2,67.9 514.4,67.5 516.7,66.9 518.9,67.5 521.1,67.8 523.3,66.9 525.6,67.6 527.8,67.1 530.0,67.2 532.2,67.7 534.4,67.6 536.6,67.4 538.9,67.6 541.1,65.9 543.3,66.2 545.5,65.6 547.7,66.8 549.9,67.2 552.1,65.3 554.4,65.8 556.6,65.7 558.8,66.7 561.0,65.8 563.2,66.5 565.4,65.1 567.7,65.4 569.9,66.3 572.1,65.4 574.3,66.5 576.6,66.0 578.8,66.4 581.0,66.2 583.2,65.7 585.4,66.6 587.7,66.1 589.9,66.4 592.1,66.0 594.3,66.1 596.6,66.1 598.8,66.1 601.0,66.0" fill="none" stroke="url(#gt35)" stroke-width="2" stroke-linejoin="round" stroke-linecap="round"/>
<polyline points="448.0,68.5 450.4,67.9 452.9,69.0 455.3,68.1 457.7,70.0 460.1,69.6 462.6,69.3 465.0,69.5 467.5,69.2 470.0,68.3 472.5,69.1 475.0,69.0 477.5,69.1 480.0,68.5 482.5,68.9 485.0,69.8 487.5,68.9 490.0,69.3 492.5,70.6 495.0,70.0 497.5,69.9 500.0,68.7 502.5,69.5 505.0,69.5 507.5,69.0 510.0,68.5 512.5,67.4 515.0,68.6 517.5,67.9 520.0,68.3 522.5,66.9 525.0,67.0 527.5,67.2 530.0,66.2 532.5,66.2 535.0,66.6 537.5,67.1 540.0,66.2 542.3,66.4 544.6,65.6 547.0,64.3 549.3,63.9 551.6,62.8 554.0,62.0 556.3,63.1 558.6,61.8" fill="none" stroke="url(#gt35)" stroke-width="2" stroke-linejoin="round" stroke-linecap="round"/>
<polyline points="521.0,66.3 523.4,65.5 525.8,66.6 528.1,66.5 530.5,64.8 532.9,65.7 535.2,65.2 537.6,64.7 540.0,64.5 542.3,63.6 544.6,63.2 547.0,63.0 549.3,62.6 551.6,63.3 554.0,62.3 556.3,61.2 558.6,61.3 561.1,60.8 563.5,60.2 566.0,60.0 571.0,53.8 576.0,56.3 580.0,53.8 586.0,47.5 591.0,53.8 596.0,60.0 598.7,57.5 600.4,36.3 601.6,46.0 602.4,55.0 602.6,66.3" fill="none" stroke="url(#gt35)" stroke-width="2" stroke-linejoin="round" stroke-linecap="round"/>
<polyline points="401.8,129.0 401.8,123.8 404.0,117.6 407.8,102.5 410.3,85.0 412.0,79.5 414.0,85.0 415.3,107.6 417.0,115.0 420.3,110.0 426.6,112.5 428.6,102.5 430.3,85.0 432.0,79.5 433.8,85.0 434.8,117.6 437.8,116.3 440.3,115.6 442.8,116.3 446.6,115.0 449.0,118.8 450.4,123.8 452.8,123.2 455.2,124.3 457.6,124.3 460.0,124.5 462.5,124.0 465.0,124.4 467.5,123.1 470.0,123.5 472.5,123.8 475.0,125.0 477.5,124.1 480.0,125.5 482.5,126.1 485.0,124.9 487.5,124.5 490.0,124.6 492.5,124.0 495.0,124.8 497.5,124.4 500.0,125.2 504.0,123.8 506.0,124.5" fill="none" stroke="url(#gt30)" stroke-width="2" stroke-linejoin="round" stroke-linecap="round"/>
<polyline points="401.5,129.5 403.7,129.0 405.9,129.7 408.1,130.4 410.3,128.9 412.5,130.3 414.7,130.2 416.9,129.9 419.1,129.6 421.3,129.8 423.5,129.0 425.8,130.5 428.0,130.4 430.2,130.4 432.4,129.8 434.6,130.3 436.8,129.8 439.0,129.2 441.2,130.1 443.4,130.6 445.6,129.4 447.8,130.3 450.0,130.2 452.2,130.3 454.5,130.1 456.7,130.9 459.0,130.0 461.2,129.7 463.4,130.6 465.7,130.0 467.9,131.0 470.2,130.9 472.4,130.3 474.6,129.8 476.9,130.3 479.1,130.5 481.4,130.6 483.6,129.3 485.8,129.8 488.1,129.4 490.3,129.4 492.6,130.2 494.8,129.2 497.0,130.5 499.3,130.3 501.5,130.3 503.8,129.9 506.0,130.0 508.4,129.4 510.8,130.5 513.2,129.3 515.6,130.6 518.0,129.9 520.4,131.2 522.8,129.7 525.2,131.1 527.6,129.7 530.0,130.5 532.3,130.5 534.7,130.8 537.0,131.6 539.3,131.3 541.7,130.8 544.0,130.9 546.3,130.9 548.7,131.6 551.0,131.2 553.3,131.8 555.7,131.2 558.0,131.3 560.3,132.5 562.7,131.0 565.0,131.8 567.3,131.6 569.6,132.0 571.9,131.4 574.2,131.8 576.5,132.2 578.8,132.1 581.1,132.1 583.4,131.7 585.7,131.7 588.0,131.1 590.3,131.1 592.6,132.7 594.9,130.9 597.2,131.8 599.5,131.7 601.8,131.6 604.1,131.1 606.4,131.3 608.7,131.8" fill="none" stroke="url(#gt30)" stroke-width="2" stroke-linejoin="round" stroke-linecap="round"/>
<polyline points="506.0,130.5 506.0,135.6 508.3,134.9 510.7,135.6 513.0,136.0 515.3,135.8 517.7,137.0 520.0,136.2 522.5,135.2 524.9,135.9 527.3,136.4 529.8,135.6 529.8,131.3 532.1,131.4 534.4,131.3 536.7,129.7 539.0,129.0 541.3,129.7 543.6,128.8 546.0,120.0 546.6,113.8 547.5,120.0 548.6,126.3 551.1,126.3 553.5,127.9 556.0,128.8 558.2,128.7 560.5,128.2 562.8,128.5 565.0,127.6 566.6,118.8 568.8,118.4 571.0,117.6 574.0,120.0 577.0,118.0 581.0,122.6 583.0,95.0 585.0,83.8 587.0,95.0 588.7,112.5 593.7,117.6 596.0,107.6 598.0,85.0 599.2,80.5 601.0,90.0 603.7,113.8 606.0,122.6 609.0,127.6 608.7,131.3" fill="none" stroke="url(#gt30)" stroke-width="2" stroke-linejoin="round" stroke-linecap="round"/>
<polyline points="393.5,193.8 396.5,192.0 401.5,188.8 405.3,180.0 407.8,167.5 409.6,150.0 411.6,142.0 413.6,150.0 415.3,170.0 419.0,181.3 422.3,185.0 424.0,192.0 426.6,188.8 429.0,177.6 431.0,157.5 432.8,144.5 434.5,157.0 436.0,182.6 439.0,184.6 441.5,186.0 444.0,186.3 446.5,186.9 449.1,186.6 451.6,187.6 454.1,189.2 456.5,188.5 459.0,190.0 461.5,190.8 464.0,191.4 466.5,190.4 469.0,191.3 470.4,181.3 471.6,193.8 473.8,193.2 476.1,193.5 478.3,193.9 480.5,195.1 482.8,193.9 485.0,194.5 487.5,195.3 490.0,195.5 492.5,195.4 495.0,195.8 497.5,195.6 500.0,195.5 502.5,194.6 505.0,195.2 507.5,194.1 510.0,193.8 512.5,194.5 515.0,194.0 517.4,193.1 519.8,193.2 522.1,194.2 524.5,194.0 526.9,193.7 529.2,193.5 531.6,194.1 534.0,193.8 536.4,192.9 538.7,194.2 541.1,193.5 543.5,193.8 545.8,194.0 548.2,193.6 550.5,192.7 552.9,194.1 555.3,192.7 557.6,193.2 560.0,193.0 562.3,193.1 564.6,192.1 566.9,192.7 569.1,192.2 571.4,192.4 573.7,191.4 576.0,191.5" fill="none" stroke="url(#gt25)" stroke-width="2" stroke-linejoin="round" stroke-linecap="round"/>
<polyline points="394.0,196.3 396.4,196.2 398.7,196.0 401.1,196.5 403.5,197.0 405.8,198.0 408.2,196.9 410.5,198.0 412.9,196.8 415.3,197.0 417.6,197.3 420.0,198.0 422.2,198.8 424.4,198.0 426.6,199.0 428.9,199.1 431.1,198.5 433.3,198.7 435.5,198.9 437.7,200.1 440.0,199.2 442.2,200.1 444.4,200.0 446.6,200.0 448.9,200.2 451.3,199.3 453.6,199.7 456.0,199.9 458.3,200.0 460.6,198.4 463.0,199.8 465.3,198.0 467.7,198.7 470.0,198.5 472.3,197.7 474.6,197.8 476.9,198.8 479.2,197.4 481.5,197.5 483.8,198.5 486.2,198.0 488.5,198.4 490.8,197.3 493.1,198.1 495.4,196.8 497.7,196.9 500.0,197.5 502.3,196.7 504.5,196.5 506.8,197.6 509.1,196.6 511.3,197.2 513.6,197.2 515.9,197.3 518.1,196.0 520.4,197.4 522.7,196.0 524.9,196.3 527.2,196.3 529.5,195.8 531.7,196.0 534.0,196.3 536.2,196.5 538.4,195.9 540.6,195.4 542.8,195.9 545.1,195.1 547.3,194.8 549.5,195.5 551.7,194.5 553.9,193.8 556.1,194.6 558.3,193.3 560.5,194.2 562.7,194.5 564.9,192.7 567.2,193.4 569.4,193.6 571.6,192.1 573.8,192.0 576.0,192.5 578.2,191.9 580.4,192.6 582.7,192.1 584.9,192.5 587.1,192.0 589.3,191.7 591.6,192.8 593.8,192.5 596.0,192.8 598.2,191.2 600.4,191.2 602.7,192.5 604.9,191.1 607.1,191.0 609.3,192.2 611.6,191.4 613.8,191.5 616.0,191.3" fill="none" stroke="url(#gt25)" stroke-width="2" stroke-linejoin="round" stroke-linecap="round"/>
<polyline points="394.0,195.5 396.2,195.2 398.5,196.3 400.8,195.7 403.0,196.5 405.2,195.2 407.5,195.4 409.8,195.5 412.0,194.9 414.2,196.4 416.5,196.2 418.8,195.3 421.0,196.5 423.2,196.7 425.5,195.6 427.8,195.9 430.0,196.0 432.2,196.6 434.4,195.1 436.7,195.3 438.9,195.3 441.1,196.0 443.3,195.0 445.6,195.2 447.8,194.8 450.0,195.6 452.2,195.0 454.4,195.8 456.7,195.6 458.9,194.5 461.1,194.3 463.3,195.1 465.6,195.4 467.8,194.8 470.0,195.0 472.2,195.7 474.4,196.0 476.7,196.5 478.9,195.5 481.1,196.8 483.3,196.8 485.6,196.1 487.8,196.6 490.0,196.8 492.5,197.0 495.0,197.8 497.5,197.6 500.0,198.5 502.5,198.1 505.0,197.7 507.5,197.0 510.0,196.0 512.5,195.8 515.0,196.9 517.5,196.9 520.0,196.2 522.5,196.8 525.0,197.5 527.5,197.4 530.0,196.7 532.5,197.4 535.0,196.9 537.5,196.7 540.0,195.5 542.5,195.2 545.0,195.8 547.5,194.8 550.0,194.6 552.5,194.5 555.0,194.8" fill="none" stroke="url(#gt25)" stroke-width="2" stroke-linejoin="round" stroke-linecap="round"/>
<polyline points="553.6,192.6 557.4,183.8 561.0,181.3 563.5,181.4 566.0,180.0 568.6,167.5 570.0,150.0 571.0,142.0 572.0,155.0 573.6,172.6 576.0,190.0 577.4,191.3" fill="none" stroke="url(#gt25)" stroke-width="2" stroke-linejoin="round" stroke-linecap="round"/>
<polyline points="584.0,190.6 585.0,178.8 593.7,175.0 596.0,170.0 598.0,150.0 600.0,138.8 602.0,150.0 603.7,167.5 607.4,187.6 611.0,187.6 613.5,187.3 616.0,187.6 617.5,192.6 615.0,192.7 612.5,192.0 610.0,192.9 607.5,193.2 605.0,194.0 602.5,194.0 600.0,193.5" fill="none" stroke="url(#gt25)" stroke-width="2" stroke-linejoin="round" stroke-linecap="round"/>
<polyline points="385.3,263.0 389.0,262.0 394.0,258.8 397.8,260.0 401.5,256.3 404.0,252.6 406.5,242.6 409.0,225.0 411.6,208.8 414.0,222.5 416.6,237.6 419.0,241.3 422.8,238.8 426.6,237.6 430.3,242.6 432.0,261.3 434.8,260.7 437.5,260.6 440.3,261.3 444.0,256.3 447.9,253.0 451.6,255.6 454.0,260.0 457.9,258.8 461.6,257.6 464.0,262.6 466.2,262.2 468.5,262.8 470.8,262.4 473.0,261.8 475.2,263.0 477.5,262.6 479.8,261.9 482.0,262.0 484.2,263.2 486.5,262.3 488.8,262.2 491.0,263.1 493.2,261.8 495.5,262.5 497.8,263.3 500.0,262.6 502.3,262.4 504.5,262.2 506.8,262.4 509.1,262.2 511.4,263.2 513.6,263.3 515.9,261.9 518.2,262.2 520.4,263.3 522.7,263.0 525.0,262.5 527.3,262.1 529.5,262.2 531.8,263.2 534.1,262.7 536.3,261.7 538.6,262.4 540.9,261.9 543.2,262.1 545.4,262.1 547.7,263.0 550.0,261.8 552.2,263.0 554.5,263.1 556.8,262.7 559.1,262.4 561.3,261.8 563.6,262.6 563.6,258.8 566.6,251.3 570.0,250.0 572.4,246.3 574.4,225.0 576.0,211.3 578.0,225.0 580.0,247.6 582.4,255.0 586.0,256.3 591.0,261.3 591.7,261.3 591.7,221.3 597.4,215.0 600.0,207.5 602.4,220.0 605.0,245.0 607.4,246.3 611.2,255.0 616.2,258.8 623.7,262.6 626.2,263.8" fill="none" stroke="url(#gt20)" stroke-width="2" stroke-linejoin="round" stroke-linecap="round"/>
<polyline points="385.0,264.0 387.2,263.7 389.4,263.4 391.6,264.1 393.8,264.7 396.1,264.0 398.3,264.3 400.5,263.3 402.7,264.1 404.9,264.3 407.1,263.3 409.3,263.8 411.5,264.5 413.8,264.2 416.0,263.8 418.2,263.9 420.4,263.9 422.6,264.3 424.8,264.4 427.0,264.1 429.2,264.3 431.4,264.0 433.7,264.0 435.9,264.1 438.1,264.6 440.3,263.3 442.5,264.4 444.7,263.4 446.9,263.3 449.1,263.8 451.3,263.3 453.6,263.3 455.8,263.1 458.0,264.0 460.2,264.2 462.4,264.4 464.6,263.0 466.8,263.2 469.0,263.4 471.2,263.9 473.5,263.6 475.7,264.5 477.9,264.4 480.1,264.5 482.3,263.7 484.5,263.8 486.7,264.4 488.9,264.7 491.2,263.1 493.4,263.3 495.6,263.1 497.8,264.5 500.0,263.8 502.2,263.7 504.4,264.1 506.6,263.9 508.8,263.1 511.1,262.9 513.3,264.0 515.5,263.1 517.7,263.0 519.9,264.3 522.1,264.0 524.3,264.6 526.5,263.4 528.7,264.4 530.9,264.1 533.2,263.6 535.4,263.1 537.6,263.9 539.8,264.5 542.0,263.7 544.2,263.9 546.4,264.0 548.6,264.4 550.8,264.5 553.1,263.9 555.3,264.1 557.5,264.0 559.7,263.7 561.9,264.1 564.1,264.5 566.3,264.7 568.5,263.6 570.7,263.6 572.9,263.4 575.2,263.1 577.4,264.5 579.6,264.2 581.8,264.6 584.0,263.3 586.2,263.6 588.4,264.1 590.6,263.8 592.8,264.0 595.1,263.5 597.3,264.2 599.5,263.6 601.7,264.1 603.9,263.0 606.1,264.4 608.3,264.2 610.5,263.2 612.7,263.6 614.9,264.2 617.2,263.3 619.4,263.2 621.6,263.9 623.8,264.6 626.0,263.8" fill="none" stroke="url(#gt20)" stroke-width="2" stroke-linejoin="round" stroke-linecap="round"/>
<text x="490.20" y="22.10" font-size="15" text-anchor="start" >40 K</text>
<text x="490.20" y="61.30" font-size="15" text-anchor="start" >35 K</text>
<text x="490.20" y="118.20" font-size="15" text-anchor="start" >30 K</text>
<text x="490.20" y="187.20" font-size="15" text-anchor="start" >25 K</text>
<text x="490.20" y="256.70" font-size="15" text-anchor="start" >20 K</text>
<rect x="50.0" y="0.8" width="264.80" height="265.00" fill="none" stroke="#1a1a1a" stroke-width="1.7"/>
<rect x="374.0" y="0.8" width="261.70" height="265.00" fill="none" stroke="#1a1a1a" stroke-width="1.7"/>
<path d="M58.00 265.8v-5M58.00 0.8v5M143.70 265.8v-5M143.70 0.8v5M229.40 265.8v-5M229.40 0.8v5M315.10 265.8v-5M315.10 0.8v5M75.14 265.8v-2.8M75.14 0.8v2.8M92.28 265.8v-2.8M92.28 0.8v2.8M109.42 265.8v-2.8M109.42 0.8v2.8M126.56 265.8v-2.8M126.56 0.8v2.8M160.84 265.8v-2.8M160.84 0.8v2.8M177.98 265.8v-2.8M177.98 0.8v2.8M195.12 265.8v-2.8M195.12 0.8v2.8M212.26 265.8v-2.8M212.26 0.8v2.8M246.54 265.8v-2.8M246.54 0.8v2.8M263.68 265.8v-2.8M263.68 0.8v2.8M280.82 265.8v-2.8M280.82 0.8v2.8M297.96 265.8v-2.8M297.96 0.8v2.8M50.0 265.80h5M314.8 265.80h-5M50.0 171.12h5M314.8 171.12h-5M50.0 76.44h5M314.8 76.44h-5M50.0 246.86h2.8M314.8 246.86h-2.8M50.0 227.93h2.8M314.8 227.93h-2.8M50.0 208.99h2.8M314.8 208.99h-2.8M50.0 190.06h2.8M314.8 190.06h-2.8M50.0 152.18h2.8M314.8 152.18h-2.8M50.0 133.25h2.8M314.8 133.25h-2.8M50.0 114.31h2.8M314.8 114.31h-2.8M50.0 95.38h2.8M314.8 95.38h-2.8M50.0 57.50h2.8M314.8 57.50h-2.8M50.0 38.57h2.8M314.8 38.57h-2.8M50.0 19.63h2.8M314.8 19.63h-2.8" stroke="#1a1a1a" stroke-width="1.5" fill="none"/>
<path d="M417.70 265.8v-5M417.70 0.8v5M505.50 265.8v-5M505.50 0.8v5M593.30 265.8v-5M593.30 0.8v5M382.58 265.8v-2.8M382.58 0.8v2.8M400.14 265.8v-2.8M400.14 0.8v2.8M435.26 265.8v-2.8M435.26 0.8v2.8M452.82 265.8v-2.8M452.82 0.8v2.8M470.38 265.8v-2.8M470.38 0.8v2.8M487.94 265.8v-2.8M487.94 0.8v2.8M523.06 265.8v-2.8M523.06 0.8v2.8M540.62 265.8v-2.8M540.62 0.8v2.8M558.18 265.8v-2.8M558.18 0.8v2.8M575.74 265.8v-2.8M575.74 0.8v2.8M610.86 265.8v-2.8M610.86 0.8v2.8M628.42 265.8v-2.8M628.42 0.8v2.8M374.0 265.80h5M635.7 265.80h-5M374.0 224.33h5M635.7 224.33h-5M374.0 182.86h5M635.7 182.86h-5M374.0 141.39h5M635.7 141.39h-5M374.0 99.92h5M635.7 99.92h-5M374.0 58.45h5M635.7 58.45h-5M374.0 16.98h5M635.7 16.98h-5M374.0 257.51h2.8M635.7 257.51h-2.8M374.0 249.21h2.8M635.7 249.21h-2.8M374.0 240.92h2.8M635.7 240.92h-2.8M374.0 232.62h2.8M635.7 232.62h-2.8M374.0 216.04h2.8M635.7 216.04h-2.8M374.0 207.74h2.8M635.7 207.74h-2.8M374.0 199.45h2.8M635.7 199.45h-2.8M374.0 191.15h2.8M635.7 191.15h-2.8M374.0 174.57h2.8M635.7 174.57h-2.8M374.0 166.27h2.8M635.7 166.27h-2.8M374.0 157.98h2.8M635.7 157.98h-2.8M374.0 149.68h2.8M635.7 149.68h-2.8M374.0 133.10h2.8M635.7 133.10h-2.8M374.0 124.80h2.8M635.7 124.80h-2.8M374.0 116.51h2.8M635.7 116.51h-2.8M374.0 108.21h2.8M635.7 108.21h-2.8M374.0 91.63h2.8M635.7 91.63h-2.8M374.0 83.33h2.8M635.7 83.33h-2.8M374.0 75.04h2.8M635.7 75.04h-2.8M374.0 66.74h2.8M635.7 66.74h-2.8M374.0 50.16h2.8M635.7 50.16h-2.8M374.0 41.86h2.8M635.7 41.86h-2.8M374.0 33.57h2.8M635.7 33.57h-2.8M374.0 25.27h2.8M635.7 25.27h-2.8M374.0 8.69h2.8M635.7 8.69h-2.8" stroke="#1a1a1a" stroke-width="1.5" fill="none"/>
<text x="58.00" y="284.50" font-size="17" text-anchor="middle" >0.0</text>
<text x="143.70" y="284.50" font-size="17" text-anchor="middle" >1.0</text>
<text x="229.40" y="284.50" font-size="17" text-anchor="middle" >2.0</text>
<text x="315.10" y="284.50" font-size="17" text-anchor="middle" >3.0</text>
<text x="417.70" y="284.50" font-size="17" text-anchor="middle" >-2.0</text>
<text x="505.50" y="284.50" font-size="17" text-anchor="middle" >0.0</text>
<text x="593.30" y="284.50" font-size="17" text-anchor="middle" >2.0</text>
<text x="43.50" y="271.80" font-size="17" text-anchor="end" >0</text>
<text x="43.50" y="177.12" font-size="17" text-anchor="end" >10</text>
<text x="43.50" y="82.44" font-size="17" text-anchor="end" >20</text>
<text x="366.50" y="271.80" font-size="17" text-anchor="end" >0</text>
<text x="366.50" y="230.33" font-size="17" text-anchor="end" >1</text>
<text x="366.50" y="188.86" font-size="17" text-anchor="end" >2</text>
<text x="366.50" y="147.39" font-size="17" text-anchor="end" >3</text>
<text x="366.50" y="105.92" font-size="17" text-anchor="end" >4</text>
<text x="366.50" y="64.45" font-size="17" text-anchor="end" >5</text>
<text x="366.50" y="22.98" font-size="17" text-anchor="end" >6</text>
<text x="182.60" y="304.00" font-size="18.5" text-anchor="middle" >Voltage (V)</text>
<text x="505.90" y="304.00" font-size="18.5" text-anchor="middle" >Voltage (V)</text>
<text x="14.20" y="129.60" font-size="18.5" text-anchor="middle" transform="rotate(-90 14.2 129.6)">Current (mA)</text>
<text x="345.60" y="131.30" font-size="18.5" text-anchor="middle" transform="rotate(-90 345.6 131.3)">Output (mV)</text>
<text x="61.30" y="25.80" font-size="19" text-anchor="start" >(a)</text>
<text x="383.80" y="26.10" font-size="19" text-anchor="start" >(b)</text>
<text x="158.00" y="42.80" font-size="15" text-anchor="start" >40 K</text>
<text x="264.00" y="68.20" font-size="15" text-anchor="start" >20 K</text>
<path d="M260 58.5L194.5 40.7" stroke="#111" stroke-width="1.5" fill="none"/>
<path d="M205.9 40.4L194.5 40.7L201.8 45.2" stroke="#111" stroke-width="1.5" fill="none"/>
</svg></body></html>
